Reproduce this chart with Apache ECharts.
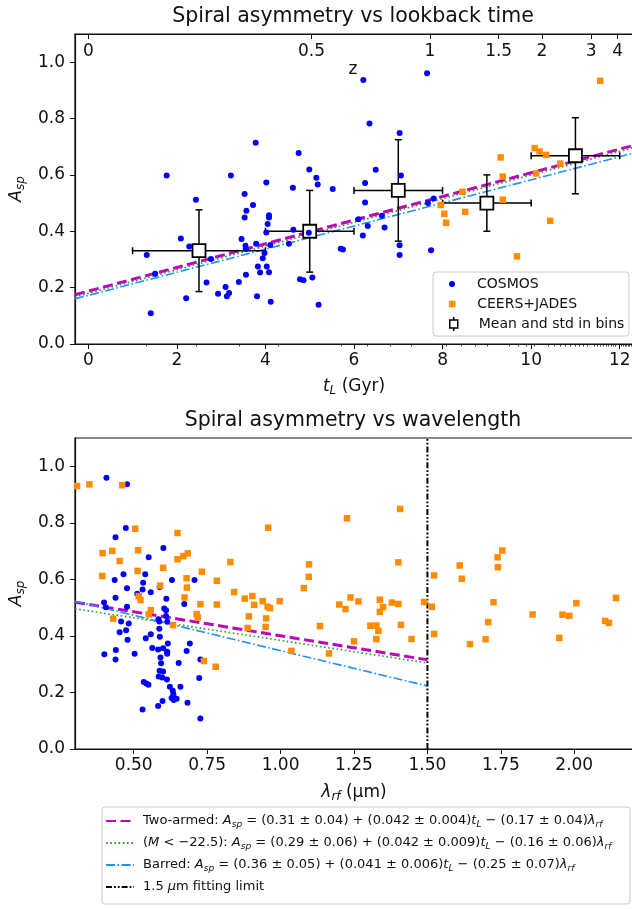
<!DOCTYPE html>
<html>
<head>
<meta charset="utf-8">
<title>Spiral asymmetry</title>
<script src="https://cdn.jsdelivr.net/npm/echarts@6/dist/echarts.min.js"></script>
<style>
  html, body { margin: 0; padding: 0; background: #fff; }
  #chart { width: 632px; height: 909px; }
</style>
</head>
<body>
<div id="chart"></div>
<script>
// ---------------- data ----------------
// COSMOS: [lookback time (Gyr), A_sp]
const cosmosTime = [
  [1.32,0.316],[1.51,0.249],[1.41,0.109],[1.77,0.598],[2.09,0.374],[2.28,0.346],[2.21,0.162],[2.43,0.512],
  [2.67,0.218],[2.77,0.302],[2.93,0.178],[3.10,0.202],[3.13,0.169],[3.18,0.181],[3.22,0.598],[3.40,0.220],
  [3.46,0.373],[3.53,0.532],[3.53,0.449],[3.57,0.473],[3.56,0.337],[3.55,0.349],[3.56,0.246],[3.72,0.493],
  [3.78,0.714],[3.79,0.356],[3.81,0.169],[3.83,0.275],[3.88,0.254],[3.94,0.304],[3.98,0.323],[4.02,0.573],
  [4.02,0.396],[4.05,0.426],[4.08,0.457],[4.08,0.449],[4.03,0.275],[4.08,0.255],[4.12,0.150],[4.11,0.351],
  [4.53,0.356],[4.62,0.554],[4.63,0.405],[4.75,0.678],[4.98,0.395],[4.99,0.619],[4.78,0.230],[4.86,0.226],
  [5.06,0.236],[5.15,0.590],[5.18,0.566],[5.20,0.139],[6.21,0.937],[7.65,0.961],[6.35,0.782],[7.03,0.749],
  [6.49,0.618],[6.25,0.571],[5.52,0.550],[7.06,0.598],[6.25,0.502],[6.10,0.443],[6.63,0.455],[6.31,0.419],
  [6.69,0.413],[6.20,0.385],[5.70,0.338],[5.75,0.335],[7.03,0.350],[7.03,0.316],[7.74,0.333],[7.67,0.500],
  [7.80,0.516]
];
// CEERS+JADES: [lookback time (Gyr), A_sp]
const ceersTime = [
  [7.96,0.493],[8.04,0.462],[8.08,0.430],[8.45,0.540],[8.51,0.469],[9.31,0.662],[9.36,0.594],[9.36,0.512],
  [9.68,0.311],[10.08,0.695],[10.19,0.683],[10.34,0.671],[10.11,0.605],[10.43,0.437],[10.66,0.640],[11.56,0.934]
];
// binned means with standard deviations
const binTime    = [2.5, 5.0, 7.0, 9.0, 11.0];
const binAsym    = [0.331, 0.400, 0.545, 0.500, 0.668];
const binTimeStd = [1.5, 1.0, 1.0, 1.0, 1.0];
const binAsymStd = [0.145, 0.145, 0.18, 0.10, 0.135];

// COSMOS: [rest-frame wavelength (um), A_sp]
const cosmosWave = [
  [0.407,0.959],[0.477,0.936],[0.473,0.782],[0.438,0.749],[0.601,0.711],[0.551,0.678],[0.465,0.618],[0.435,0.598],
  [0.539,0.618],[0.477,0.569],[0.532,0.588],[0.530,0.564],[0.558,0.554],[0.630,0.598],[0.707,0.598],[0.588,0.573],
  [0.512,0.549],[0.611,0.531],[0.438,0.535],[0.399,0.518],[0.672,0.513],[0.477,0.503],[0.604,0.497],[0.405,0.501],
  [0.457,0.451],[0.483,0.444],[0.452,0.413],[0.474,0.420],[0.479,0.386],[0.400,0.335],[0.439,0.350],[0.438,0.317],
  [0.503,0.337],[0.541,0.392],[0.558,0.406],[0.563,0.357],[0.584,0.459],[0.587,0.451],[0.587,0.425],[0.589,0.397],
  [0.610,0.470],[0.610,0.491],[0.614,0.450],[0.583,0.352],[0.600,0.356],[0.614,0.344],[0.614,0.337],[0.616,0.373],
  [0.591,0.324],[0.593,0.303],[0.653,0.304],[0.680,0.347],[0.691,0.373],[0.588,0.277],[0.600,0.274],[0.585,0.256],
  [0.597,0.253],[0.613,0.246],[0.723,0.251],[0.727,0.317],[0.534,0.237],[0.543,0.232],[0.550,0.227],[0.623,0.220],
  [0.659,0.220],[0.633,0.206],[0.635,0.194],[0.629,0.180],[0.636,0.173],[0.646,0.178],[0.598,0.170],[0.683,0.164],
  [0.583,0.152],[0.530,0.140],[0.727,0.108]
];
// CEERS+JADES: [rest-frame wavelength (um), A_sp]
const ceersWave = [
  [0.307,0.930],[0.349,0.936],[0.461,0.933],[0.505,0.779],[0.394,0.693],[0.427,0.701],[0.515,0.703],[0.452,0.665],
  [0.393,0.612],[0.513,0.630],[0.649,0.764],[0.649,0.671],[0.669,0.682],[0.684,0.692],[0.600,0.641],[0.590,0.578],
  [0.680,0.604],[0.681,0.571],[0.673,0.536],[0.517,0.541],[0.523,0.527],[0.558,0.491],[0.727,0.512],[0.732,0.627],
  [0.783,0.511],[0.783,0.595],[0.829,0.661],[0.842,0.555],[0.878,0.532],[0.904,0.541],[0.910,0.510],[0.939,0.523],
  [0.956,0.503],[0.964,0.498],[0.997,0.523],[0.958,0.783],[1.079,0.569],[1.096,0.609],[1.097,0.653],
  [0.430,0.461],[0.551,0.476],[0.634,0.438],[0.714,0.477],[0.718,0.465],[0.739,0.311],[0.779,0.291],
  [0.892,0.469],[0.888,0.428],[0.951,0.462],[0.949,0.432],[1.037,0.347],[1.134,0.435],
  [1.226,0.816],[1.407,0.849],[1.401,0.660],[1.523,0.614],[1.610,0.649],[1.617,0.602],[1.739,0.678],[1.755,0.702],
  [1.740,0.643],[1.200,0.511],[1.221,0.495],[1.238,0.536],[1.265,0.522],[1.338,0.528],[1.349,0.502],[1.338,0.485],
  [1.379,0.518],[1.401,0.513],[1.489,0.520],[1.515,0.503],[1.725,0.519],[2.007,0.516],[2.142,0.534],[1.306,0.436],
  [1.326,0.437],[1.410,0.439],[1.858,0.476],[1.960,0.475],[1.983,0.471],[1.707,0.449],[2.105,0.453],[2.118,0.446],
  [1.333,0.418],[1.326,0.389],[1.446,0.389],[1.250,0.381],[1.165,0.338],[1.523,0.407],[1.645,0.371],[1.698,0.388],
  [1.949,0.393]
];

// linear fits A_sp = a + b*t_L + c*lambda_rf
const fitNames       = ['Two-armed', 'M < −22.5', 'Barred'];
const fitIntercept   = [0.31, 0.29, 0.36];
const fitSlopeTime   = [0.042, 0.042, 0.041];
const fitSlopeLambda = [-0.17, -0.16, -0.25];
const fitLambdaRef   = [0.72, 0.69, 0.75];  // wavelength held fixed in the time panel
const fitTimeRef     = [6.2, 6.05, 5.8];    // lookback time held fixed in the wavelength panel
const fitLimit = 1.5;                       // um

// axis ticks
const timeRange   = [-0.3, 12.3];
const lambdaRange = [0.3, 2.2];
const asymRange   = [0, 1.1];
const timeTicks   = [0, 2, 4, 6, 8, 10, 12];
const asymTicks   = [0, 0.2, 0.4, 0.6, 0.8, 1.0];
const lambdaTicks = [0.5, 0.75, 1.0, 1.25, 1.5, 1.75, 2.0];
const zTickValues = [0, 0.5, 1, 1.5, 2, 3, 4];
const zTickLabels = ['0', '0.5', '1', '1.5', '2', '3', '4'];

// ---------------- helpers ----------------
const FONT = 'DejaVu Sans';
const INK = '#111';

// lookback time (Gyr) for flat LCDM, H0 = 70, Om = 0.3 (Simpson integration)
function lookbackTime(z) {
  const hubbleTime = 977.8 / 70;
  const n = 200, h = z / n;
  let s = 0;
  for (let k = 0; k <= n; k++) {
    const x = k * h;
    const f = 1 / ((1 + x) * Math.sqrt(0.3 * Math.pow(1 + x, 3) + 0.7));
    s += (k === 0 || k === n) ? f : (k % 2 ? 4 * f : 2 * f);
  }
  return hubbleTime * s * h / 3;
}
const zMajorTimes = zTickValues.map(lookbackTime);
const zMinorTimes = [];
for (let k = 1; k < 60; k++) {
  const z = k / 10;
  if (zTickValues.some(v => Math.abs(v - z) < 1e-9)) continue;
  const t = lookbackTime(z);
  if (t <= timeRange[1]) zMinorTimes.push(t);
}

function rich(size) {
  return {
    i: { fontFamily: FONT, fontStyle: 'italic', fontSize: size, color: INK },
    s: { fontFamily: FONT, fontStyle: 'italic', fontSize: Math.round(size * 0.7), color: INK,
         verticalAlign: 'bottom', lineHeight: Math.round(size * 0.8) }
  };
}

const fitStyles = [
  { color: '#bf00bf', width: 3,   type: [10, 4.5] },
  { color: '#22a022', width: 1.6, type: [1.6, 2.6] },
  { color: '#1e90ff', width: 1.6, type: [9, 2.5, 1.6, 2.5] }
];
const limitStyle = { color: '#000', width: 2, type: [6, 2, 1.8, 2, 1.8, 2] };

const legendText = {
  'Two-armed': 'Two-armed: {i|A}{s|sp} = (0.31 ± 0.04) + (0.042 ± 0.004){i|t}{s|L} − (0.17 ± 0.04){i|λ}{s|rf}',
  'M < −22.5': '({i|M} < −22.5): {i|A}{s|sp} = (0.29 ± 0.06) + (0.042 ± 0.009){i|t}{s|L} − (0.16 ± 0.06){i|λ}{s|rf}',
  'Barred': 'Barred: {i|A}{s|sp} = (0.36 ± 0.05) + (0.041 ± 0.006){i|t}{s|L} − (0.25 ± 0.07){i|λ}{s|rf}',
  '1.5 μm fitting limit': '1.5 {i|μ}m fitting limit'
};

// ---------------- axes ----------------
const TICK = 17;
function baseAxis(extra) {
  return Object.assign({
    type: 'value',
    splitLine: { show: false },
    axisLine: { show: true, onZero: false, lineStyle: { color: INK, width: 1.2 } },
    axisTick: { show: true, length: 5, lineStyle: { color: INK, width: 1 } },
    axisLabel: { color: INK, fontFamily: FONT, fontSize: TICK }
  }, extra);
}

const xAxes = [
  baseAxis({
    gridIndex: 0, position: 'bottom', min: timeRange[0], max: timeRange[1],
    axisTick: { show: true, length: 5, lineStyle: { color: INK, width: 1 }, customValues: timeTicks },
    axisLabel: { color: INK, fontFamily: FONT, fontSize: TICK, margin: 8, customValues: timeTicks },
    name: '{i|t}{s|L} (Gyr)', nameLocation: 'middle', nameGap: 32,
    nameTextStyle: { color: INK, fontFamily: FONT, fontSize: TICK, lineHeight: 21, rich: rich(TICK) }
  }),
  baseAxis({
    gridIndex: 0, position: 'top', min: timeRange[0], max: timeRange[1],
    axisTick: { show: true, inside: true, length: 5, lineStyle: { color: INK, width: 1 }, customValues: zMajorTimes },
    axisLabel: { inside: true, margin: 9, color: INK, fontFamily: FONT, fontSize: TICK, customValues: zMajorTimes,
      formatter: v => {
        const i = zMajorTimes.findIndex(t => Math.abs(t - v) < 1e-6);
        return i >= 0 ? zTickLabels[i] : '';
      } }
  }),
  baseAxis({
    gridIndex: 0, position: 'top', min: timeRange[0], max: timeRange[1],
    axisLine: { show: false },
    axisTick: { show: true, inside: true, length: 2.5, lineStyle: { color: INK, width: 0.8 }, customValues: zMinorTimes },
    axisLabel: { show: false }
  }),
  baseAxis({
    gridIndex: 1, position: 'bottom', min: lambdaRange[0], max: lambdaRange[1],
    axisTick: { show: true, length: 5, lineStyle: { color: INK, width: 1 }, customValues: lambdaTicks },
    axisLabel: { color: INK, fontFamily: FONT, fontSize: TICK, margin: 8, customValues: lambdaTicks,
      formatter: v => v.toFixed(2) },
    name: '{i|λ}{s|rf} (μm)', nameLocation: 'middle', nameGap: 33,
    nameTextStyle: { color: INK, fontFamily: FONT, fontSize: TICK, lineHeight: 21, rich: rich(TICK) }
  })
];

function asymAxis(gridIndex) {
  return baseAxis({
    gridIndex, min: asymRange[0], max: asymRange[1],
    axisTick: { show: true, length: 5, lineStyle: { color: INK, width: 1 }, customValues: asymTicks },
    axisLabel: { color: INK, fontFamily: FONT, fontSize: TICK, margin: 10, customValues: asymTicks,
      formatter: v => v.toFixed(1) },
    name: '{i|A}{s|sp}', nameLocation: 'middle', nameGap: 46, nameRotate: 90,
    nameTextStyle: { color: INK, fontFamily: FONT, fontSize: TICK, lineHeight: 21, rich: rich(TICK) }
  });
}

// ---------------- series ----------------
const series = [];

// time panel: fits at fixed wavelength
fitNames.forEach((name, i) => {
  const f = t => fitIntercept[i] + fitSlopeTime[i] * t + fitSlopeLambda[i] * fitLambdaRef[i];
  series.push({
    name, type: 'line', xAxisIndex: 0, yAxisIndex: 0, symbol: 'none', z: 2, silent: true,
    lineStyle: fitStyles[i], itemStyle: { color: fitStyles[i].color },
    data: timeRange.map(t => [t, f(t)])
  });
});

// binned means: error bars + open squares
series.push({
  name: 'Mean and std in bins', type: 'custom', xAxisIndex: 0, yAxisIndex: 0, z: 3,
  encode: { x: 0, y: 1 },
  data: binTime.map((t, i) => [t, binAsym[i], binTimeStd[i], binAsymStd[i]]),
  renderItem: (params, api) => {
    const t = api.value(0), a = api.value(1), dt = api.value(2), da = api.value(3);
    const L = api.coord([t - dt, a]), R = api.coord([t + dt, a]);
    const T = api.coord([t, a + da]), B = api.coord([t, a - da]);
    const cap = 3.5, st = { stroke: '#000', lineWidth: 1.5 };
    const seg = (x1, y1, x2, y2) => ({ type: 'line', shape: { x1, y1, x2, y2 }, style: st });
    return { type: 'group', children: [
      seg(L[0], L[1], R[0], R[1]), seg(T[0], T[1], B[0], B[1]),
      seg(L[0], L[1] - cap, L[0], L[1] + cap), seg(R[0], R[1] - cap, R[0], R[1] + cap),
      seg(T[0] - cap, T[1], T[0] + cap, T[1]), seg(B[0] - cap, B[1], B[0] + cap, B[1])
    ] };
  }
});
series.push({
  name: 'Mean and std in bins', type: 'scatter', xAxisIndex: 0, yAxisIndex: 0, z: 4,
  symbol: 'rect', symbolSize: 13,
  itemStyle: { color: '#fff', borderColor: '#000', borderWidth: 1.8, opacity: 1 },
  data: binTime.map((t, i) => [t, binAsym[i]])
});
series.push({
  name: 'COSMOS', type: 'scatter', xAxisIndex: 0, yAxisIndex: 0, z: 5,
  symbol: 'circle', symbolSize: 6, itemStyle: { color: '#0000ff', opacity: 1 }, data: cosmosTime
});
series.push({
  name: 'CEERS+JADES', type: 'scatter', xAxisIndex: 0, yAxisIndex: 0, z: 5,
  symbol: 'rect', symbolSize: 6.5, itemStyle: { color: '#ff8c00', opacity: 1 }, data: ceersTime
});

// wavelength panel: fits at fixed lookback time, up to the fitting limit
fitNames.forEach((name, i) => {
  const f = l => fitIntercept[i] + fitSlopeTime[i] * fitTimeRef[i] + fitSlopeLambda[i] * l;
  series.push({
    name, type: 'line', xAxisIndex: 3, yAxisIndex: 1, symbol: 'none', z: 2, silent: true,
    lineStyle: fitStyles[i], itemStyle: { color: fitStyles[i].color },
    data: [lambdaRange[0], fitLimit].map(l => [l, f(l)])
  });
});
series.push({
  name: '1.5 μm fitting limit', type: 'line', xAxisIndex: 3, yAxisIndex: 1, symbol: 'none', z: 3, silent: true,
  lineStyle: limitStyle, itemStyle: { color: limitStyle.color },
  data: asymRange.map(a => [fitLimit, a])
});
series.push({
  name: 'COSMOS', type: 'scatter', xAxisIndex: 3, yAxisIndex: 1, z: 5,
  symbol: 'circle', symbolSize: 6, itemStyle: { color: '#0000ff', opacity: 1 }, data: cosmosWave
});
series.push({
  name: 'CEERS+JADES', type: 'scatter', xAxisIndex: 3, yAxisIndex: 1, z: 5,
  symbol: 'rect', symbolSize: 6.5, itemStyle: { color: '#ff8c00', opacity: 1 }, data: ceersWave
});

// ---------------- legends ----------------
const SQUARE = 'path://M0,0h10v10h-10z';
function markerLegend(name, icon, top, h, itemStyle) {
  return {
    show: true, left: 449, top, orient: 'horizontal', padding: 0, z: 11,
    selectedMode: false, itemWidth: 36, itemHeight: h, symbolKeepAspect: true,
    data: [{ name, icon, itemStyle }],
    textStyle: { color: INK, fontFamily: FONT, fontSize: 14, lineHeight: 16, padding: [0, 0, 0, 2] }
  };
}

const option = {
  animation: false,
  backgroundColor: '#fff',
  grid: [
    { left: 75, top: 34, width: 558, height: 310, show: true, borderColor: INK, borderWidth: 1.2,
      backgroundColor: 'transparent', outerBoundsMode: 'none' },
    { left: 75, top: 438, width: 558, height: 311, show: true, borderColor: INK, borderWidth: 1.2,
      backgroundColor: 'transparent', outerBoundsMode: 'none' }
  ],
  xAxis: xAxes,
  yAxis: [asymAxis(0), asymAxis(1)],
  legend: [
    markerLegend('COSMOS', 'circle', 276, 6, { color: '#0000ff' }),
    markerLegend('CEERS+JADES', SQUARE, 296, 6.5, { color: '#ff8c00' }),
    markerLegend('Mean and std in bins', 'path://M2,3h8v8h-8z M6,0v3 M6,11v3', 316, 14,
      { color: '#fff', borderColor: '#000', borderWidth: 1.5 }),
    {
      show: true, left: 105, top: 813, orient: 'vertical', padding: 0, z: 11,
      selectedMode: false, itemWidth: 28, itemHeight: 10, itemGap: 6,
      itemStyle: { color: 'rgba(0,0,0,0)', borderWidth: 0, opacity: 0 },
      data: fitNames.concat(['1.5 μm fitting limit']),
      formatter: name => legendText[name],
      textStyle: { color: INK, fontFamily: FONT, fontSize: 13, lineHeight: 16, padding: [0, 0, 0, 4], rich: rich(13) }
    }
  ],
  graphic: [
    { type: 'text', x: 353, y: 17, z: 12,
      style: { text: 'Spiral asymmetry vs lookback time', fontFamily: FONT, fontSize: 20.5, fill: INK,
               align: 'center', verticalAlign: 'middle' } },
    { type: 'text', x: 353, y: 421, z: 12,
      style: { text: 'Spiral asymmetry vs wavelength', fontFamily: FONT, fontSize: 20.5, fill: INK,
               align: 'center', verticalAlign: 'middle' } },
    { type: 'text', x: 353, y: 70, z: 12,
      style: { text: 'z', fontFamily: FONT, fontSize: TICK, fill: INK, align: 'center', verticalAlign: 'middle' } },
    { type: 'rect', z: 10, shape: { x: 433, y: 272, width: 196, height: 64, r: 3 },
      style: { fill: '#fff', stroke: '#ccc', lineWidth: 1 } },
    { type: 'rect', z: 10, shape: { x: 102, y: 807, width: 528, height: 97, r: 3 },
      style: { fill: '#fff', stroke: '#ccc', lineWidth: 1 } }
  ],
  series
};

const chart = echarts.init(document.getElementById('chart'), null, { renderer: 'canvas' });
chart.setOption(option);
</script>
</body>
</html>
